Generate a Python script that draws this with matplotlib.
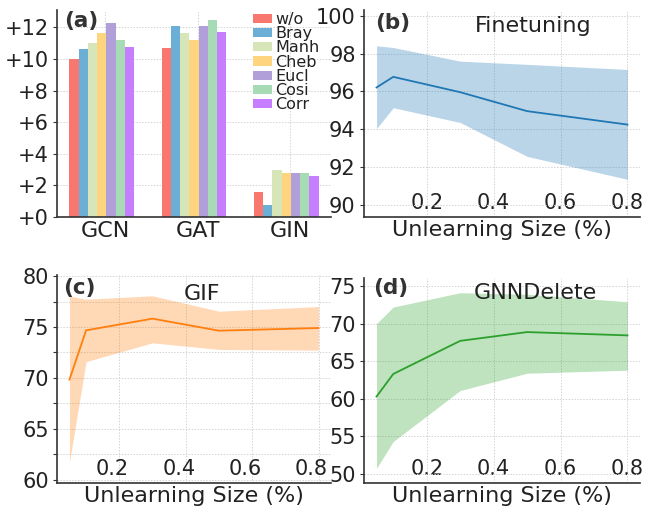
import numpy as np
import matplotlib
matplotlib.use('Agg')
import matplotlib.pyplot as plt
import matplotlib.transforms as mtransforms
from matplotlib.ticker import MultipleLocator, FuncFormatter

# ---- data ----
models = ['GCN', 'GAT', 'GIN']
metrics = ['w/o', 'Bray', 'Manh', 'Cheb', 'Eucl', 'Cosi', 'Corr']
gains = {
    'w/o':  [10.0, 10.68, 1.59],
    'Bray': [10.62, 12.06, 0.74],
    'Manh': [11.0, 11.66, 2.97],
    'Cheb': [11.62, 11.21, 2.76],
    'Eucl': [12.26, 12.06, 2.76],
    'Cosi': [11.17, 12.47, 2.76],
    'Corr': [10.73, 11.68, 2.61],
}
bar_colors = ['#f8776e', '#6baed6', '#d7e6b9', '#fed47f', '#b19fd9', '#a6dbb6', '#c77dff']

sizes = [0.05, 0.1, 0.3, 0.5, 0.8]

ft_mean = [96.21, 96.77, 95.96, 94.96, 94.25]
ft_low = [94.04, 95.14, 94.36, 92.57, 91.36]
ft_high = [98.41, 98.32, 97.6, 97.43, 97.16]

gif_mean = [69.84, 74.67, 75.82, 74.64, 74.9]
gif_low = [61.74, 71.6, 73.45, 72.8, 72.73]
gif_high = [78.03, 77.73, 78.06, 76.55, 77.0]

gd_mean = [60.3, 63.3, 67.7, 68.87, 68.43]
gd_low = [50.76, 54.33, 61.1, 63.4, 63.8]
gd_high = [70.0, 72.2, 74.1, 73.9, 72.9]

TXT = '#222222'
plt.rcParams['font.family'] = ['DejaVu Sans']
plt.rcParams['text.color'] = TXT
plt.rcParams['axes.labelcolor'] = TXT
plt.rcParams['xtick.color'] = '#333333'
plt.rcParams['ytick.color'] = '#333333'
plt.rcParams['xtick.labelcolor'] = TXT
plt.rcParams['ytick.labelcolor'] = TXT

fig = plt.figure(figsize=(6.57, 5.08), dpi=100)
W, H = 657.0, 508.0


def add_ax(l, r, t, b):
    return fig.add_axes([l / W, (H - b) / H, (r - l) / W, (b - t) / H])


def style(ax):
    for s in ['top', 'right']:
        ax.spines[s].set_visible(False)
    for s in ['left', 'bottom']:
        ax.spines[s].set_color('#333333')
        ax.spines[s].set_linewidth(1.2)
    ax.set_axisbelow(True)
    ax.grid(True, which='both', color='#d4d4d4', linestyle=(0, (1.5, 1.5)), linewidth=0.7)
    ax.tick_params(which='both', direction='out', length=3, width=0.8, labelsize=15, pad=3)


ax_a = add_ax(57, 331, 10, 217)
ax_b = add_ax(364, 640, 10, 217)
ax_c = add_ax(57, 331, 275, 483)
ax_d = add_ax(364, 640, 278, 483)

# ---- (a) bars ----
x = np.arange(len(models))
w = 0.1
for i, m in enumerate(metrics):
    ax_a.bar(x + (i - 3) * w, gains[m], w, color=bar_colors[i], label=m)
style(ax_a)
ax_a.set_ylim(0, 13.1)
ax_a.yaxis.set_major_locator(MultipleLocator(2))
ax_a.yaxis.set_major_formatter(FuncFormatter(lambda v, p: '+%d' % v))
ax_a.set_xticks(x + 0.04)
ax_a.set_xticklabels(models, fontsize=16)
ax_a.tick_params(axis='x', length=0)
ax_a.legend(loc='upper left', bbox_to_anchor=(0.715, 0.99), frameon=False, fontsize=11.5,
            borderpad=0, borderaxespad=0, handlelength=1.2, handleheight=0.5,
            handletextpad=0.2, labelspacing=-0.05)
ax_a.text(0.025, 0.995, '(a)', transform=ax_a.transAxes, ha='left', va='top',
          fontsize=15.5, fontweight='bold', color='#333333')


def line_panel(ax, mean, low, high, color, title, tx, ty, lab, lx, ly):
    ax.fill_between(sizes, low, high, color=color, alpha=0.3, linewidth=0)
    ax.plot(sizes, mean, color=color, linewidth=1.3)
    style(ax)
    ax.xaxis.set_major_locator(MultipleLocator(0.2))
    ax.tick_params(axis='x', pad=-17, length=0)
    ax.set_xlabel('Unlearning Size (%)', fontsize=16, labelpad=2)
    ax.text(tx, ty, title, transform=ax.transAxes, ha='center', va='center', fontsize=16)
    ax.text(lx, ly, lab, transform=ax.transAxes, ha='left', va='top',
            fontsize=15.5, fontweight='bold', color='#333333')


line_panel(ax_b, ft_mean, ft_low, ft_high, '#1f77b4', 'Finetuning', 0.612, 0.923, '(b)', 0.04, 0.985)
ax_b.set_ylim(89.37, 100.3)
ax_b.yaxis.set_major_locator(MultipleLocator(2))

line_panel(ax_c, gif_mean, gif_low, gif_high, '#ff7f0e', 'GIF', 0.531, 0.911, '(c)', 0.022, 0.986)
ax_c.set_ylim(59.7, 80.1)
ax_c.yaxis.set_major_locator(MultipleLocator(5))
ax_c.yaxis.set_minor_locator(MultipleLocator(2.5))
# in the reference the (c) x labels sit a little left of their grid lines
shift = mtransforms.ScaledTranslation(-0.07, 0, fig.dpi_scale_trans)
for lbl in ax_c.get_xticklabels():
    lbl.set_transform(lbl.get_transform() + shift)

line_panel(ax_d, gd_mean, gd_low, gd_high, '#2ca02c', 'GNNDelete', 0.622, 0.929, '(d)', 0.033, 1.0)
ax_d.set_ylim(48.8, 76.06)
ax_d.yaxis.set_major_locator(MultipleLocator(5))

fig.savefig('out.png', dpi=100)
